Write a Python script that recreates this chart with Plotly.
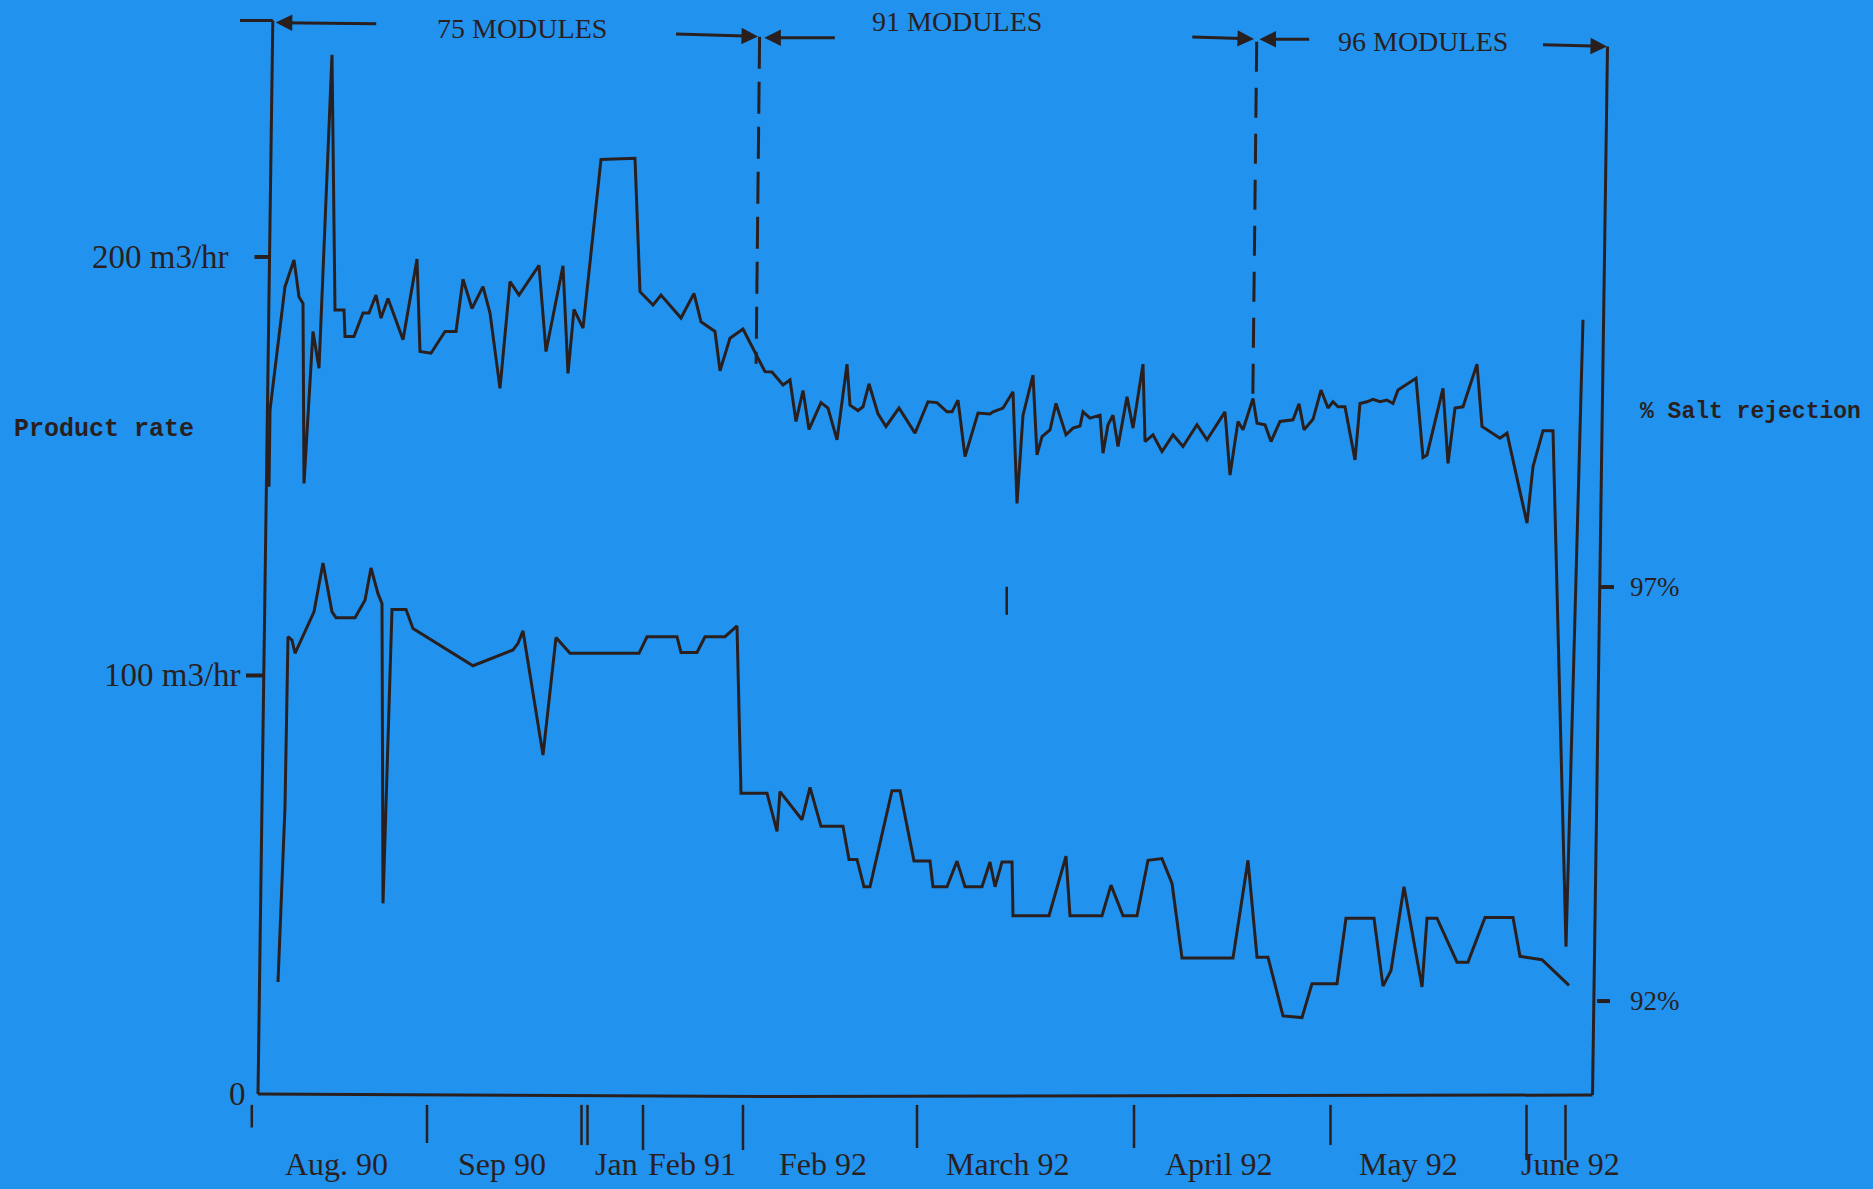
import plotly.graph_objects as go

BG = "#2193EE"
INK = "#2a1f1f"

# Position along the hand-drawn time axis (arbitrary units, 0 = axis origin)
product_t = [1.1, 1.2, 2.7, 3.6, 4.1, 4.5, 4.6, 5.5, 6.1, 7.4,
             7.7, 8.6, 8.7, 9.6, 10.5, 11.1, 11.8, 12.3, 13.0, 14.5,
             15.9, 16.2, 17.3, 18.7, 19.8, 20.5, 21.4, 22.5, 23.2, 24.2,
             25.2, 26.1, 28.1, 28.8, 30.5, 31.0, 31.6, 32.5, 34.3, 37.7,
             38.2, 39.5, 40.3, 42.3, 43.6, 44.3, 45.7, 46.2, 47.2, 48.5,
             50.7, 51.4, 52.5, 53.2, 53.8, 54.5, 55.1, 56.3, 57.0, 57.9,
             58.9, 59.2, 60.0, 60.5, 61.1, 62.0, 62.8, 64.1, 65.7, 67.0,
             67.9, 68.9, 69.4, 70.0, 70.7, 72.0, 73.2, 73.5, 74.5, 75.5,
             75.9, 76.5, 77.5, 77.9, 78.4, 79.2, 79.8, 80.8, 81.5, 82.2,
             82.5, 83.2, 84.2, 84.5, 85.0, 85.5, 86.0, 86.9, 87.5, 88.5,
             88.7, 89.5, 90.4, 91.5, 92.5, 93.9, 94.9, 96.7, 97.2, 98.0,
             98.5, 99.5, 99.9, 100.7, 101.3, 102.2, 103.5, 104.1, 104.6, 105.5,
             106.3, 107.0, 107.5, 108.0, 108.7, 109.7, 110.2, 110.9, 111.5, 112.2,
             112.9, 113.5, 114.0, 115.8, 116.5, 116.9, 118.5, 119.0, 119.7, 120.5,
             121.9, 122.4, 124.2, 124.9, 126.9, 127.5, 128.5, 129.5, 130.8, 132.5]

# Product rate, m3/hr (left scale)
product_rate = [145.1, 163.4, 192.9, 199.3, 190.5, 188.9, 145.9, 182.2, 173.4, 248.3,
                187.3, 187.3, 181.0, 181.0, 186.6, 186.6, 190.9, 185.4, 190.1, 180.2,
                199.5, 177.4, 177.0, 182.2, 182.2, 194.7, 187.7, 192.9, 186.6, 168.6,
                194.1, 190.9, 198.0, 177.4, 197.9, 172.2, 187.5, 183.0, 223.3, 223.6,
                191.7, 188.5, 190.9, 185.4, 191.3, 184.5, 182.2, 172.8, 180.6, 182.8,
                172.6, 172.5, 169.4, 170.6, 160.7, 168.1, 158.8, 165.2, 163.9, 156.3,
                174.4, 164.6, 163.3, 164.2, 169.7, 162.5, 159.5, 163.9, 157.9, 165.4,
                165.2, 163.0, 163.0, 165.8, 152.3, 162.7, 162.5, 163.0, 163.9, 167.8,
                141.1, 162.2, 171.8, 152.7, 157.1, 158.7, 165.0, 157.5, 159.1, 159.6,
                163.0, 161.5, 162.2, 153.1, 159.9, 162.2, 154.7, 166.6, 159.1, 174.4,
                155.9, 157.5, 153.5, 157.5, 154.7, 159.9, 156.3, 163.0, 147.9, 160.7,
                158.7, 166.2, 160.3, 159.9, 155.9, 160.7, 161.1, 164.9, 158.7, 161.2,
                168.2, 163.9, 165.4, 164.2, 164.2, 151.5, 165.0, 165.4, 166.0, 165.4,
                165.8, 165.0, 168.2, 171.0, 152.1, 152.7, 168.6, 150.7, 163.9, 164.2,
                174.4, 159.5, 156.7, 157.9, 136.4, 149.9, 158.5, 158.5, 35.2, 185.0]

salt_t = [2.0, 2.7, 3.0, 3.4, 3.7, 5.6, 6.5, 7.4, 7.8, 9.7,
          10.7, 11.3, 12.0, 12.4, 12.5, 13.4, 14.8, 15.5, 21.5, 25.5,
          26.0, 26.5, 28.5, 29.8, 31.2, 38.1, 38.9, 41.9, 42.3, 43.9,
          44.7, 46.7, 47.9, 48.3, 50.9, 51.9, 52.2, 54.4, 55.2, 56.3,
          58.5, 59.1, 59.9, 60.6, 61.2, 63.4, 64.2, 65.6, 67.2, 67.5,
          68.9, 69.9, 70.7, 72.4, 73.2, 73.7, 74.4, 75.4, 75.5, 79.1,
          80.8, 81.2, 84.4, 85.3, 86.5, 87.9, 89.0, 90.4, 91.4, 92.4,
          97.5, 99.0, 99.9, 101.0, 102.5, 104.4, 105.4, 107.9, 108.8, 111.6,
          112.5, 113.3, 114.6, 116.4, 116.9, 117.9, 119.9, 121.0, 122.7, 125.5,
          126.2, 128.4, 131.1]

# Salt rejection, % (right scale)
salt_rejection = [92.23, 94.35, 96.40, 96.36, 96.20, 96.70, 97.29, 96.70, 96.63, 96.63,
                  96.84, 97.23, 96.92, 96.80, 93.18, 96.73, 96.73, 96.50, 96.05, 96.24,
                  96.32, 96.47, 94.97, 96.39, 96.20, 96.20, 96.40, 96.40, 96.21, 96.21,
                  96.40, 96.40, 96.53, 94.51, 94.51, 94.05, 94.53, 94.19, 94.58, 94.11,
                  94.11, 93.71, 93.71, 93.38, 93.38, 94.54, 94.54, 93.69, 93.69, 93.38,
                  93.38, 93.69, 93.38, 93.38, 93.68, 93.38, 93.68, 93.68, 93.03, 93.03,
                  93.75, 93.03, 93.03, 93.40, 93.03, 93.03, 93.70, 93.72, 93.42, 92.52,
                  92.52, 93.70, 92.53, 92.53, 91.82, 91.80, 92.21, 92.21, 93.00, 93.00,
                  92.18, 92.37, 93.38, 92.17, 93.00, 93.00, 92.47, 92.47, 93.01, 93.01,
                  92.54, 92.50, 92.19]

month_labels = ["Aug. 90", "Sep 90", "Jan", "Feb 91", "Feb 92",
                "March 92", "April 92", "May 92", "June 92"]
month_label_t = [7.8, 24.4, 35.8, 43.4, 56.5, 75.0, 96.1, 115.0, 131.2]
month_tick_t = [-0.62, 16.9, 32.35, 32.95, 38.5, 48.5, 65.9, 87.6, 107.25, 126.85, 130.75]
month_tick_end = [-8.0, -11.7, -12.2, -12.2, -13.4, -13.4, -12.9, -12.9, -12.2, -15.8, -15.8]

left_tick_vals = [200, 100, 0]
left_tick_text = ["200 m3/hr", "100 m3/hr", "0"]
left_label_anchor = [-2.75, -1.55, -1.0]
right_tick_vals = [97, 92]
right_tick_text = ["97%", "92%"]

module_labels = ["75 MODULES", "91 MODULES", "96 MODULES"]
module_label_t = [26.4, 69.85, 116.45]
module_label_v = [254.5, 256.2, 251.6]

X_RANGE = [-25.8, 161.5]
Y_RANGE = [-22.7, 261.4]
Y2_RANGE = [89.73, 104.09]

fig = go.Figure()
fig.add_trace(go.Scatter(x=product_t, y=product_rate, mode="lines", yaxis="y",
                         line=dict(color=INK, width=3), hoverinfo="skip", showlegend=False))
fig.add_trace(go.Scatter(x=salt_t, y=salt_rejection, mode="lines", yaxis="y2",
                         line=dict(color=INK, width=3), hoverinfo="skip", showlegend=False))

shapes = []
def seg(x0, y0, x1, y1, w=3, dash=None, yref="y"):
    d = dict(type="line", xref="x", yref=yref, x0=x0, y0=y0, x1=x1, y1=y1,
             line=dict(color=INK, width=w))
    if dash:
        d["line"]["dash"] = dash
    shapes.append(d)

# frame
seg(1.48, 256.5, 0, 0)                      # left axis
seg(-1.8, 256.5, 1.48, 256.5)               # top-left stub
shapes.append(dict(type="path", xref="x", yref="y", path="M 0,0 L 52.2,-0.6 L 133.45,-0.24",
                   line=dict(color=INK, width=3)))
seg(134.95, 250.3, 133.45, -0.24)           # right axis
# module change dashed lines
seg(50.16, 252.6, 49.81, 174.5, w=3, dash="32px,13px")
seg(99.87, 251.4, 99.47, 163.5, w=3, dash="30px,16px")
# left ticks
seg(-0.35, 200, 1.3, 200, w=4)
seg(-1.2, 100, 0.5, 100, w=4)
# right ticks
seg(134.2, 97, 135.6, 97, w=4, yref="y2")
seg(133.9, 92, 135.2, 92, w=4, yref="y2")
# month boundary ticks
for t, e in zip(month_tick_t, month_tick_end):
    seg(t, -2.6, t, e, w=2.5)
# stray mark in the original
seg(74.87, 121.2, 74.87, 114.5, w=2.5)

ann = []
def arrow(hx, hy, tx, ty, head=2):
    ann.append(dict(x=hx, y=hy, ax=tx, ay=ty, xref="x", yref="y", axref="x", ayref="y",
                    text="", showarrow=True, arrowhead=head, arrowsize=1.1, arrowwidth=3,
                    arrowcolor=INK, standoff=0, startstandoff=0))

arrow(1.78, 256.0, 11.97, 255.7, head=2)
arrow(50.0, 252.7, 41.65, 253.3)
arrow(50.64, 252.4, 57.83, 252.4)
arrow(99.6, 252.1, 93.28, 252.6)
arrow(100.15, 252.0, 105.27, 252.0)
arrow(134.9, 250.3, 128.35, 250.7)

MOD_FONT = dict(family="Liberation Serif", size=28, color=INK)
YLAB_FONT = dict(family="Liberation Serif", size=33, color=INK)
BOT_FONT = dict(family="Liberation Serif", size=32, color=INK)
PCT_FONT = dict(family="Liberation Serif", size=27, color=INK)

for txt, t, v in zip(module_labels, module_label_t, module_label_v):
    ann.append(dict(x=t, y=v, xref="x", yref="y", text=txt, showarrow=False,
                    xanchor="center", yanchor="middle", font=MOD_FONT))

for txt, v, a in zip(left_tick_text, left_tick_vals, left_label_anchor):
    ann.append(dict(x=a, y=v, xref="x", yref="y", text=txt, showarrow=False,
                    xanchor="right", yanchor="middle", font=YLAB_FONT))

for txt, v in zip(right_tick_text, right_tick_vals):
    ann.append(dict(x=137.0, y=v, xref="x", yref="y2", text=txt, showarrow=False,
                    xanchor="left", yanchor="middle", font=PCT_FONT))

for txt, t in zip(month_labels, month_label_t):
    ann.append(dict(x=t, y=-16.8, xref="x", yref="y", text=txt, showarrow=False,
                    xanchor="center", yanchor="middle", font=BOT_FONT))

ann.append(dict(x=-24.6, y=158.7, xref="x", yref="y", text="<b>Product rate</b>", showarrow=False,
                xanchor="left", yanchor="middle", font=dict(family="Liberation Mono", size=25, color=INK)))
ann.append(dict(x=138.0, y=163.0, xref="x", yref="y", text="<b>% Salt rejection</b>", showarrow=False,
                xanchor="left", yanchor="middle", font=dict(family="Liberation Mono", size=23, color=INK)))

fig.update_layout(
    width=1873, height=1189,
    margin=dict(l=0, r=0, t=0, b=0, pad=0),
    paper_bgcolor=BG, plot_bgcolor=BG,
    xaxis=dict(range=X_RANGE, visible=False, fixedrange=True),
    yaxis=dict(range=Y_RANGE, visible=False, fixedrange=True),
    yaxis2=dict(range=Y2_RANGE, visible=False, overlaying="y", side="right", fixedrange=True),
    shapes=shapes, annotations=ann, showlegend=False,
)

fig.write_html("out.html", config={"displayModeBar": False},
               post_script="document.body.style.margin='0px';document.body.style.overflow='hidden';")
